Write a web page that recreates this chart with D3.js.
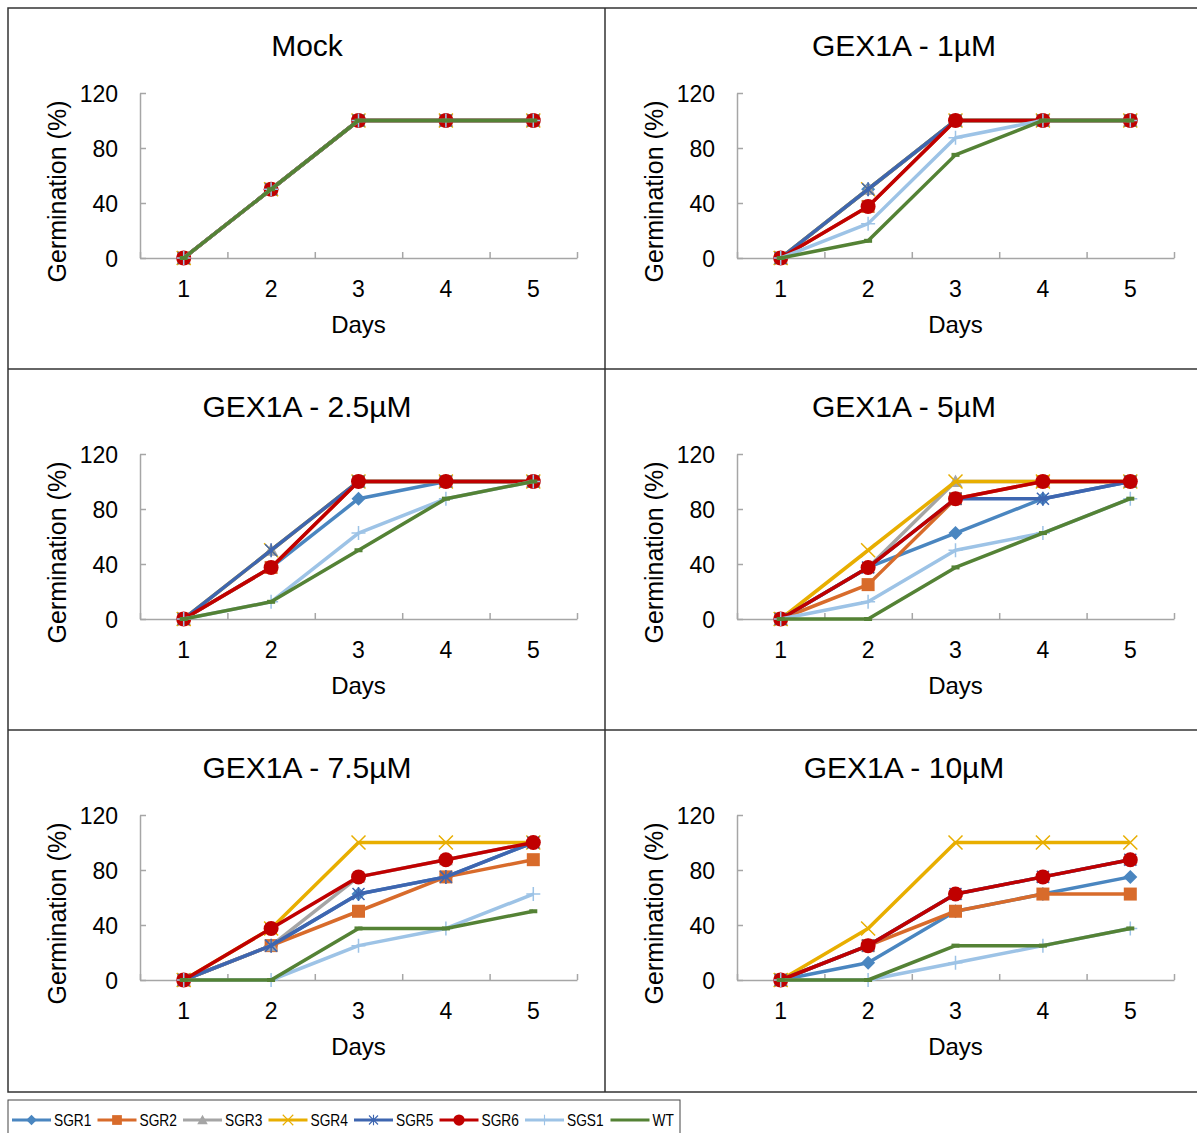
<!DOCTYPE html>
<html>
<head>
<meta charset="utf-8">
<script src="https://cdn.jsdelivr.net/npm/d3@7"></script>
<style>
    body { margin: 0; background: #fff; }
    text { font-family: "Liberation Sans", Arial, sans-serif; fill: #000; }
    .axis path, .axis line { stroke: #a6a6a6; stroke-width: 1.5; }
    .legend text { font-family: "Liberation Sans", sans-serif; font-size: 16px; }
</style>
</head>
<body>
<script>
// ---- data ----
var days = [1, 2, 3, 4, 5];
var seriesNames = ["SGR1", "SGR2", "SGR3", "SGR4", "SGR5", "SGR6", "SGS1", "WT"];
var seriesColors = ["#4a86c0", "#d86b2b", "#a5a5a5", "#e8ae00", "#3e66b0", "#c00000", "#9dc3e6", "#548235"];
var seriesMarkers = ["diamond", "square", "triangle", "x", "star", "circle", "plus", "dash"];
var yTicks = [0, 40, 80, 120];
var panelTitles = ["Mock", "GEX1A - 1µM", "GEX1A - 2.5µM", "GEX1A - 5µM", "GEX1A - 7.5µM", "GEX1A - 10µM"];

var mock = [
    [0, 50, 100, 100, 100], [0, 50, 100, 100, 100], [0, 50, 100, 100, 100], [0, 50, 100, 100, 100],
    [0, 50, 100, 100, 100], [0, 50, 100, 100, 100], [0, 50, 100, 100, 100], [0, 50, 100, 100, 100]
];
var gex1 = [
    [0, 50, 100, 100, 100], [0, 37.5, 100, 100, 100], [0, 50, 100, 100, 100], [0, 50, 100, 100, 100],
    [0, 50, 100, 100, 100], [0, 37.5, 100, 100, 100], [0, 25, 87.5, 100, 100], [0, 12.5, 75, 100, 100]
];
var gex2_5 = [
    [0, 37.5, 87.5, 100, 100], [0, 37.5, 100, 100, 100], [0, 50, 100, 100, 100], [0, 50, 100, 100, 100],
    [0, 50, 100, 100, 100], [0, 37.5, 100, 100, 100], [0, 12.5, 62.5, 87.5, 100], [0, 12.5, 50, 87.5, 100]
];
var gex5 = [
    [0, 37.5, 62.5, 87.5, 100], [0, 25, 87.5, 100, 100], [0, 37.5, 100, 100, 100], [0, 50, 100, 100, 100],
    [0, 37.5, 87.5, 87.5, 100], [0, 37.5, 87.5, 100, 100], [0, 12.5, 50, 62.5, 87.5], [0, 0, 37.5, 62.5, 87.5]
];
var gex7_5 = [
    [0, 25, 62.5, 75, 100], [0, 25, 50, 75, 87.5], [0, 25, 75, 87.5, 100], [0, 37.5, 100, 100, 100],
    [0, 25, 62.5, 75, 100], [0, 37.5, 75, 87.5, 100], [0, 0, 25, 37.5, 62.5], [0, 0, 37.5, 37.5, 50]
];
var gex10 = [
    [0, 12.5, 50, 62.5, 75], [0, 25, 50, 62.5, 62.5], [0, 25, 62.5, 75, 87.5], [0, 37.5, 100, 100, 100],
    [0, 25, 62.5, 75, 87.5], [0, 25, 62.5, 75, 87.5], [0, 0, 12.5, 25, 37.5], [0, 0, 25, 25, 37.5]
];
var panelData = [mock, gex1, gex2_5, gex5, gex7_5, gex10];

// ---- layout ----
var W = 1197, H = 1133;
var panelW = 597, panelH = 361;
var origin = { x: 8, y: 8 };
var plot = { left: 132, top: 85, width: 437, height: 165 };

var svg = d3.select("body").append("svg")
    .attr("width", W)
    .attr("height", H);

var x = d3.scaleLinear().domain([0.5, 5.5]).range([0, plot.width]);
var y = d3.scaleLinear().domain([0, 120]).range([plot.height, 0]);

var line = d3.line()
    .x(function (d, i) { return x(days[i]); })
    .y(function (d) { return y(d); });

function drawMarker(g, type, color, cx, cy) {
    if (type == "diamond") {
        g.append("path").attr("d", "M0,-7L7,0L0,7L-7,0Z")
            .attr("transform", "translate(" + cx + "," + cy + ")").style("fill", color);
    } else if (type == "square") {
        g.append("rect").attr("x", cx - 6.5).attr("y", cy - 6.5).attr("width", 13).attr("height", 13).style("fill", color);
    } else if (type == "triangle") {
        g.append("path").attr("d", "M0,-7L7,5.5L-7,5.5Z")
            .attr("transform", "translate(" + cx + "," + cy + ")").style("fill", color);
    } else if (type == "circle") {
        g.append("circle").attr("cx", cx).attr("cy", cy).attr("r", 7.5).style("fill", color);
    } else if (type == "x") {
        g.append("path").attr("d", "M-7,-7L7,7M-7,7L7,-7")
            .attr("transform", "translate(" + cx + "," + cy + ")")
            .style("stroke", color).style("stroke-width", 1.5).style("fill", "none");
    } else if (type == "star") {
        g.append("path").attr("d", "M-6,-6L6,6M-6,6L6,-6M0,-7L0,7")
            .attr("transform", "translate(" + cx + "," + cy + ")")
            .style("stroke", color).style("stroke-width", 1.5).style("fill", "none");
    } else if (type == "plus") {
        g.append("path").attr("d", "M-7,0L7,0M0,-7L0,7")
            .attr("transform", "translate(" + cx + "," + cy + ")")
            .style("stroke", color).style("stroke-width", 1.5).style("fill", "none");
    } else if (type == "dash") {
        g.append("rect").attr("x", cx - 4).attr("y", cy - 2).attr("width", 8).attr("height", 4).style("fill", color);
    }
}

panelData.forEach(function (data, p) {
    var col = p % 2, row = Math.floor(p / 2);
    var px = origin.x + col * panelW, py = origin.y + row * panelH;

    var panel = svg.append("g").attr("transform", "translate(" + px + "," + py + ")");

    panel.append("text")
        .attr("x", 299)
        .attr("y", 48)
        .attr("text-anchor", "middle")
        .style("font-size", "30px")
        .text(panelTitles[p]);

    var g = panel.append("g").attr("transform", "translate(" + plot.left + "," + plot.top + ")");

    g.append("g")
        .attr("class", "axis")
        .attr("transform", "translate(0," + plot.height + ")")
        .call(d3.axisBottom(x).tickValues([0.5, 1.5, 2.5, 3.5, 4.5, 5.5]).tickSizeInner(-6).tickSizeOuter(0).tickFormat(""));

    g.append("g")
        .attr("class", "axis")
        .call(d3.axisLeft(y).tickValues(yTicks).tickSizeInner(-6).tickSizeOuter(0).tickPadding(22))
        .selectAll("text")
        .style("font-size", "23px")
        .attr("dy", "0.36em");

    g.selectAll(".xlabel")
        .data(days)
        .enter().append("text")
        .attr("x", function (d) { return x(d); })
        .attr("y", plot.height + 39)
        .attr("text-anchor", "middle")
        .style("font-size", "23px")
        .text(function (d) { return d; });

    g.append("text")
        .attr("x", plot.width / 2)
        .attr("y", plot.height + 75)
        .attr("text-anchor", "middle")
        .style("font-size", "24px")
        .text("Days");

    g.append("text")
        .attr("transform", "translate(" + (-74) + "," + (plot.height / 2 + 16) + ") rotate(-90)")
        .attr("text-anchor", "middle")
        .style("font-size", "25px")
        .text("Germination (%)");

    data.forEach(function (vals, s) {
        var sg = g.append("g");
        sg.append("path")
            .datum(vals)
            .attr("d", line)
            .style("fill", "none")
            .style("stroke", seriesColors[s])
            .style("stroke-width", 3.5)
            .style("stroke-linejoin", "round");
        vals.forEach(function (v, i) {
            drawMarker(sg, seriesMarkers[s], seriesColors[s], x(days[i]), y(v));
        });
    });
});

// frame lines
var frame = svg.append("g").style("stroke", "#333").style("fill", "none").style("stroke-width", 1.5);
frame.append("rect").attr("x", origin.x).attr("y", origin.y).attr("width", panelW * 2).attr("height", panelH * 3 + 1);
frame.append("line").attr("x1", origin.x + panelW).attr("x2", origin.x + panelW).attr("y1", origin.y).attr("y2", origin.y + panelH * 3 + 1);
frame.append("line").attr("x1", origin.x).attr("x2", origin.x + panelW * 2).attr("y1", origin.y + panelH).attr("y2", origin.y + panelH);
frame.append("line").attr("x1", origin.x).attr("x2", origin.x + panelW * 2).attr("y1", origin.y + panelH * 2).attr("y2", origin.y + panelH * 2);

// legend
var legend = svg.append("g").attr("class", "legend");
legend.append("rect")
    .attr("x", 8).attr("y", 1100).attr("width", 672).attr("height", 45)
    .style("fill", "none").style("stroke", "#444").style("stroke-width", 1);

seriesNames.forEach(function (name, s) {
    var lx = 12 + s * 85.5, ly = 1120;
    var lg = legend.append("g");
    lg.append("line")
        .attr("x1", lx).attr("x2", lx + 39).attr("y1", ly).attr("y2", ly)
        .style("stroke", seriesColors[s]).style("stroke-width", 3);
    var mg = lg.append("g").attr("transform", "translate(" + (lx + 19.5) + "," + ly + ") scale(0.75)");
    if (seriesMarkers[s] != "dash") drawMarker(mg, seriesMarkers[s], seriesColors[s], 0, 0);
    lg.append("text")
        .attr("transform", "translate(" + (lx + 42) + "," + (ly + 6) + ") scale(0.86,1)")
        .text(name);
});
</script>
</body>
</html>
